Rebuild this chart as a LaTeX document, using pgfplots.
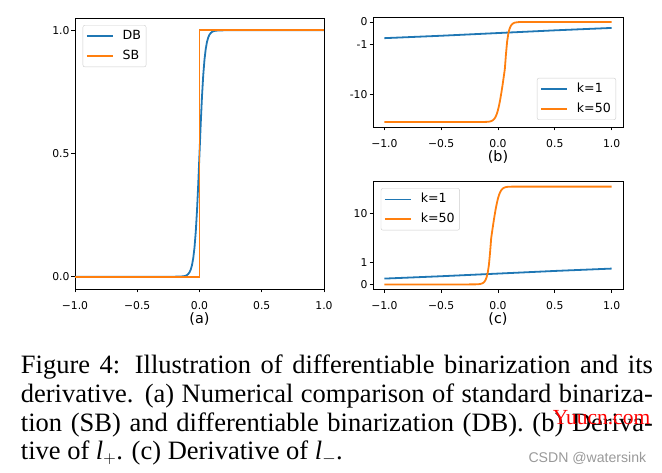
\documentclass[border=0pt]{standalone}
\usepackage{pgfplots}
\pgfplotsset{compat=1.18}
\usepackage{fontspec}
\setmainfont{DejaVu Sans}
\newfontfamily\timesfont{Liberation Serif}
\newfontfamily\arialfont{Liberation Sans}

\definecolor{mplblue}{HTML}{1F77B4}
\definecolor{mplorange}{HTML}{FF7F0E}

% matplotlib-like panel
\pgfplotsset{
  panel/.style={
    scale only axis,
    axis line style={line width=0.8pt},
    tick pos=left,
    tick align=outside,
    major tick length=3.5pt,
    tick style={line width=0.8pt, black},
    ticklabel style={font=\fontsize{10.8}{12}\selectfont},
    xticklabel style={yshift=-5pt},
    yticklabel style={xshift=1.5pt},
    xtick={-1,-0.5,0,0.5,1},
    xticklabels={−1.0,−0.5,0.0,0.5,1.0},
    xlabel style={font=\fontsize{14.4}{16}\selectfont,
      at={(axis description cs:0.5,0)}, anchor=center, yshift=-30pt},
    legend cell align=left,
    legend image code/.code={\draw[##1, line width=1.8pt] (0pt,0pt) -- (26pt,0pt);},
    legend style={draw=black!20, rounded corners=2pt, fill=white,
      font=\fontsize{12.6}{14}\selectfont,
      inner xsep=3pt, inner ysep=3pt, row sep=3.7pt,
      nodes={inner sep=2pt, text height=9.5pt, text depth=2.5pt},
      /tikz/every odd column/.append style={column sep=7pt}},
  },
  line/.style={line width=1.8pt},
  % symlog, linthresh 2, linscale 1
  symlog/.style={y filter/.expression={abs(y)<=2 ? 1.111111*y : (y<0 ? -1 : 1)*2*(1.111111+ln(max(abs(y),2)/2)/2.302585)}},
}

\begin{document}
\begin{tikzpicture}
\path[use as bounding box] (0,0) rectangle (662pt,473pt);

% (a)
\begin{axis}[panel,
  at={(75pt,184pt)}, anchor=south west,
  width=249pt, height=271pt,
  xmin=-1, xmax=1, ymin=-0.05, ymax=1.05,
  ytick={0,0.5,1}, yticklabels={0.0,0.5,1.0},
  xlabel={(a)},
  legend style={at={(0.031,0.974)}, anchor=north west}]
\addplot[mplblue, line] coordinates {
  (-1,0) (-0.2,0.00005) (-0.15,0.00055) (-0.12,0.0025) (-0.11,0.0041)
  (-0.1,0.0067) (-0.09,0.011) (-0.08,0.018) (-0.07,0.0293) (-0.06,0.0474)
  (-0.05,0.0759) (-0.04,0.1192) (-0.03,0.1824) (-0.02,0.2689) (-0.01,0.3775)
  (0,0.5) (0.01,0.6225) (0.02,0.7311) (0.03,0.8176) (0.04,0.8808)
  (0.05,0.9241) (0.06,0.9526) (0.07,0.9707) (0.08,0.982) (0.09,0.989)
  (0.1,0.9933) (0.11,0.9959) (0.12,0.9975) (0.15,0.99945) (0.2,0.99995) (1,1)
};
\addplot[mplorange, line] coordinates {(-1,0) (0,0) (0,1) (1,1)};
\legend{DB,SB}
\end{axis}

% (b)
\begin{axis}[panel, symlog,
  at={(373pt,346pt)}, anchor=south west,
  width=250pt, height=110pt,
  xmin=-1.1, xmax=1.1, ymin=-5.27, ymax=0.25,
  ytick={-3.62016,-1.11111,0}, yticklabels={-10,-1,0},
  xlabel={(b)},
  legend style={at={(0.972,0.064)}, anchor=south east}]
\addplot[mplblue, line] coordinates {
  (-1,-0.731) (-0.5,-0.622) (0,-0.5) (0.5,-0.378) (1,-0.269)
};
\addplot[mplorange, line] coordinates {
  (-1,-50) (-0.2,-50) (-0.15,-49.97) (-0.12,-49.88) (-0.1,-49.67)
  (-0.09,-49.45) (-0.08,-49.1) (-0.07,-48.54) (-0.06,-47.63) (-0.05,-46.21)
  (-0.04,-44.04) (-0.03,-40.88) (-0.02,-36.55) (-0.01,-31.13) (0,-25)
  (0.01,-18.87) (0.02,-13.45) (0.03,-9.12) (0.04,-5.96) (0.05,-3.79)
  (0.06,-2.37) (0.07,-1.46) (0.08,-0.9) (0.09,-0.55) (0.1,-0.334)
  (0.11,-0.204) (0.12,-0.124) (0.13,-0.075) (0.14,-0.046) (0.15,-0.028)
  (0.17,-0.01) (0.2,-0.002) (0.3,0) (1,0)
};
\legend{k=1,k=50}
\end{axis}

% (c)
\begin{axis}[panel, symlog,
  at={(373pt,183.7pt)}, anchor=south west,
  width=250pt, height=107.6pt,
  xmin=-1.1, xmax=1.1, ymin=-0.25, ymax=5.27,
  ytick={0,1.11111,3.62016}, yticklabels={0,1,10},
  xlabel={(c)},
  legend style={at={(0.031,0.939)}, anchor=north west}]
\addplot[mplblue, line] coordinates {
  (-1,0.269) (-0.5,0.378) (0,0.5) (0.5,0.622) (1,0.731)
};
\addplot[mplorange, line] coordinates {
  (-1,0) (-0.3,0) (-0.2,0.002) (-0.17,0.01) (-0.15,0.028) (-0.14,0.046)
  (-0.13,0.075) (-0.12,0.124) (-0.11,0.204) (-0.1,0.334) (-0.09,0.55)
  (-0.08,0.9) (-0.07,1.46) (-0.06,2.37) (-0.05,3.79) (-0.04,5.96)
  (-0.03,9.12) (-0.02,13.45) (-0.01,18.87) (0,25) (0.01,31.13)
  (0.02,36.55) (0.03,40.88) (0.04,44.04) (0.05,46.21) (0.06,47.63)
  (0.07,48.54) (0.08,49.1) (0.09,49.45) (0.1,49.67) (0.12,49.88)
  (0.15,49.97) (0.2,50) (1,50)
};
\legend{k=1,k=50}
\end{axis}

% caption
\begin{scope}[every node/.style={anchor=base west, inner sep=0pt,
    font=\timesfont\fontsize{26.5}{28.7}\selectfont}]
\node at (20.7pt,99.5pt) {\makebox[632pt][s]{Figure 4: Illustration of differentiable binarization and its}};
\node at (20.7pt,70.7pt) {\makebox[632pt][s]{derivative. (a) Numerical comparison of standard binariza-}};
\node at (20.7pt,41.3pt) {\makebox[632pt][s]{tion (SB) and differentiable binarization (DB). (b) Deriva-}};
\node at (20.7pt,13pt) {tive of {\itshape l}$_{+}$. (c) Derivative of {\itshape l}$_{-}$.};
\end{scope}

% watermarks
\node[anchor=base west, inner sep=0pt, text=red,
  font=\timesfont\fontsize{21.5}{22}\selectfont] at (552.7pt,48.7pt) {Yuucn.com};
\node[anchor=base west, inner sep=0pt, text=black!40,
  font=\arialfont\fontsize{14.1}{15}\selectfont] at (528.3pt,10.7pt) {CSDN @watersink};
\end{tikzpicture}
\end{document}
